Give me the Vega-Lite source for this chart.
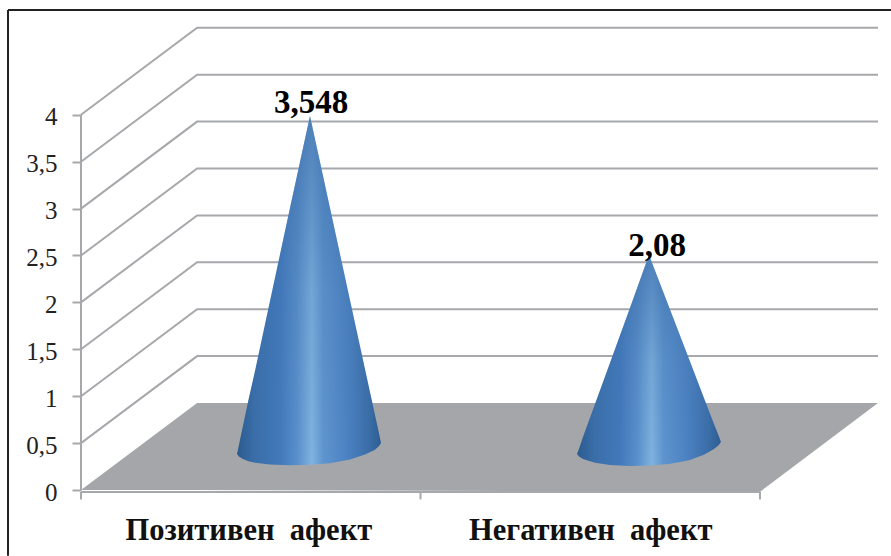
{
"$schema":"https://vega.github.io/schema/vega-lite/v6.json",
"width":797,"height":463,
"autosize":{"type":"none"},
"padding":{"left":81,"top":27,"right":13,"bottom":66},
"background":"#ffffff",
"config":{"view":{"stroke":null}},
"datasets":{
"walls":[
{"level":0.5,"x":0,"y":0.5},{"level":0.5,"x":0.342,"y":1.4275},{"level":0.5,"x":2.3476,"y":1.4275},
{"level":1,"x":0,"y":1},{"level":1,"x":0.342,"y":1.9275},{"level":1,"x":2.3476,"y":1.9275},
{"level":1.5,"x":0,"y":1.5},{"level":1.5,"x":0.342,"y":2.4275},{"level":1.5,"x":2.3476,"y":2.4275},
{"level":2,"x":0,"y":2},{"level":2,"x":0.342,"y":2.9275},{"level":2,"x":2.3476,"y":2.9275},
{"level":2.5,"x":0,"y":2.5},{"level":2.5,"x":0.342,"y":3.4275},{"level":2.5,"x":2.3476,"y":3.4275},
{"level":3,"x":0,"y":3},{"level":3,"x":0.342,"y":3.9275},{"level":3,"x":2.3476,"y":3.9275},
{"level":3.5,"x":0,"y":3.5},{"level":3.5,"x":0.342,"y":4.4275},{"level":3.5,"x":2.3476,"y":4.4275},
{"level":4,"x":0,"y":4},{"level":4,"x":0.342,"y":4.9275},{"level":4,"x":2.3476,"y":4.9275}
],
"floor":[
{"x":0,"y":0,"y2":0},{"x":0.342,"y":0.9275,"y2":0},{"x":2,"y":0.9275,"y2":-0.02},{"x":2.3476,"y":0.9275,"y2":0.9275}
],
"cones":[
{"cone":"Позитивен афект","x":0.4595,"y":0.384,"y2":0.384},
{"cone":"Позитивен афект","x":0.465,"y":0.477,"y2":0.358},
{"cone":"Позитивен афект","x":0.477,"y":0.682,"y2":0.33},
{"cone":"Позитивен афект","x":0.4935,"y":0.965,"y2":0.306},
{"cone":"Позитивен афект","x":0.5125,"y":1.269,"y2":0.29},
{"cone":"Позитивен афект","x":0.5567,"y":2.015,"y2":0.272},
{"cone":"Позитивен афект","x":0.6156,"y":3.006,"y2":0.263},
{"cone":"Позитивен афект","x":0.6745,"y":3.987,"y2":0.268},
{"cone":"Позитивен афект","x":0.7334,"y":3.006,"y2":0.285},
{"cone":"Позитивен афект","x":0.7923,"y":2.026,"y2":0.325},
{"cone":"Позитивен афект","x":0.8365,"y":1.29,"y2":0.378},
{"cone":"Позитивен афект","x":0.866,"y":0.8,"y2":0.43},
{"cone":"Позитивен афект","x":0.878,"y":0.6,"y2":0.468},
{"cone":"Позитивен афект","x":0.8837,"y":0.501,"y2":0.501},
{"cone":"Негативен афект","x":1.461,"y":0.384,"y2":0.384},
{"cone":"Негативен афект","x":1.467,"y":0.44,"y2":0.358},
{"cone":"Негативен афект","x":1.4786,"y":0.565,"y2":0.33},
{"cone":"Негативен афект","x":1.514,"y":0.917,"y2":0.29},
{"cone":"Негативен афект","x":1.558,"y":1.354,"y2":0.266},
{"cone":"Негативен афект","x":1.617,"y":1.94,"y2":0.256},
{"cone":"Негативен афект","x":1.673,"y":2.505,"y2":0.261},
{"cone":"Негативен афект","x":1.732,"y":1.951,"y2":0.277},
{"cone":"Негативен афект","x":1.791,"y":1.397,"y2":0.318},
{"cone":"Негативен афект","x":1.835,"y":0.981,"y2":0.375},
{"cone":"Негативен афект","x":1.8645,"y":0.704,"y2":0.436},
{"cone":"Негативен афект","x":1.878,"y":0.58,"y2":0.478},
{"cone":"Негативен афект","x":1.885,"y":0.512,"y2":0.512}
],
"labels":[
{"label":"3,548","x":0.678,"y":4.13},
{"label":"2,08","x":1.697,"y":2.6}
],
"axislines":[
{"x":0,"x2":0,"y":0,"y2":4},
{"x":0,"x2":2,"y":-0.02,"y2":-0.02},
{"x":0,"x2":0,"y":-0.02,"y2":-0.1},
{"x":1,"x2":1,"y":-0.02,"y2":-0.1},
{"x":2,"x2":2,"y":-0.02,"y2":-0.1}
],
"frame":[
{"x":-0.215,"x2":2.386,"y":5.117,"y2":5.117},
{"x":-0.215,"x2":-0.215,"y":5.117,"y2":-0.7}
]
},
"encoding":{
"x":{"field":"x","type":"quantitative","title":null,
"scale":{"domain":[0,2.3476],"nice":false,"zero":false},
"axis":{"values":[0.493,1.5],"domain":false,"ticks":false,"grid":false,"labelPadding":25,"labelFontSize":30.5,"labelLimit":0,"labelFont":"Liberation Serif","labelFontWeight":"bold","labelColor":"#111111","labelExpr":"datum.value < 1 ? 'Позитивен\u00a0\u00a0афект' : 'Негативен\u00a0\u00a0афект'"}},
"y":{"field":"y","type":"quantitative","title":null,
"scale":{"domain":[0,4.936],"nice":false,"zero":false},
"axis":{"values":[0,0.5,1,1.5,2,2.5,3,3.5,4],"format":".1~f","domain":false,"grid":false,"tickSize":9,"tickWidth":2,"tickColor":"#a6a8ab","labelPadding":15,"labelOffset":2,"labelFontSize":25,"labelFont":"Liberation Serif","labelColor":"#222222","labelExpr":"replace(datum.label,'.',',')"}}
},
"layer":[
{"data":{"name":"walls"},"mark":{"type":"line","color":"#a6a8ab","strokeWidth":2,"clip":false},"encoding":{"detail":{"field":"level"}}},
{"data":{"name":"floor"},"mark":{"type":"area","color":"#a5a6a9","clip":false},"encoding":{"y2":{"field":"y2"}}},
{"data":{"name":"axislines"},"mark":{"type":"rule","color":"#a6a8ab","strokeWidth":2,"clip":false},"encoding":{"x2":{"field":"x2"},"y2":{"field":"y2"}}},
{"data":{"name":"cones"},"mark":{"type":"area","clip":false,"color":{"gradient":"linear","x1":0,"y1":0,"x2":1,"y2":0,"stops":[
{"offset":0,"color":"#2b5a8e"},{"offset":0.12,"color":"#3a6ea8"},{"offset":0.3,"color":"#4279bb"},{"offset":0.42,"color":"#5a90cb"},{"offset":0.52,"color":"#80b3e0"},{"offset":0.6,"color":"#5e95cf"},{"offset":0.78,"color":"#4a80bf"},{"offset":0.92,"color":"#3a6da6"},{"offset":1,"color":"#2c5c90"}]}},
"encoding":{"detail":{"field":"cone"},"y2":{"field":"y2"}}},
{"data":{"name":"cones"},"mark":{"type":"area","clip":false,"color":{"gradient":"linear","x1":0,"y1":0,"x2":0,"y2":1,"stops":[
{"offset":0,"color":"rgba(62,112,172,0.75)"},{"offset":0.5,"color":"rgba(62,112,172,0.2)"},{"offset":1,"color":"rgba(62,112,172,0)"}]}},
"encoding":{"detail":{"field":"cone"},"y2":{"field":"y2"}}},
{"data":{"name":"labels"},"mark":{"type":"text","font":"Liberation Serif","fontWeight":"bold","fontSize":33,"color":"#000000","baseline":"middle","align":"center","clip":false},"encoding":{"text":{"field":"label"}}},
{"data":{"name":"frame"},"mark":{"type":"rule","color":"#222222","strokeWidth":2,"clip":false},"encoding":{"x2":{"field":"x2"},"y2":{"field":"y2"}}}
]
}
